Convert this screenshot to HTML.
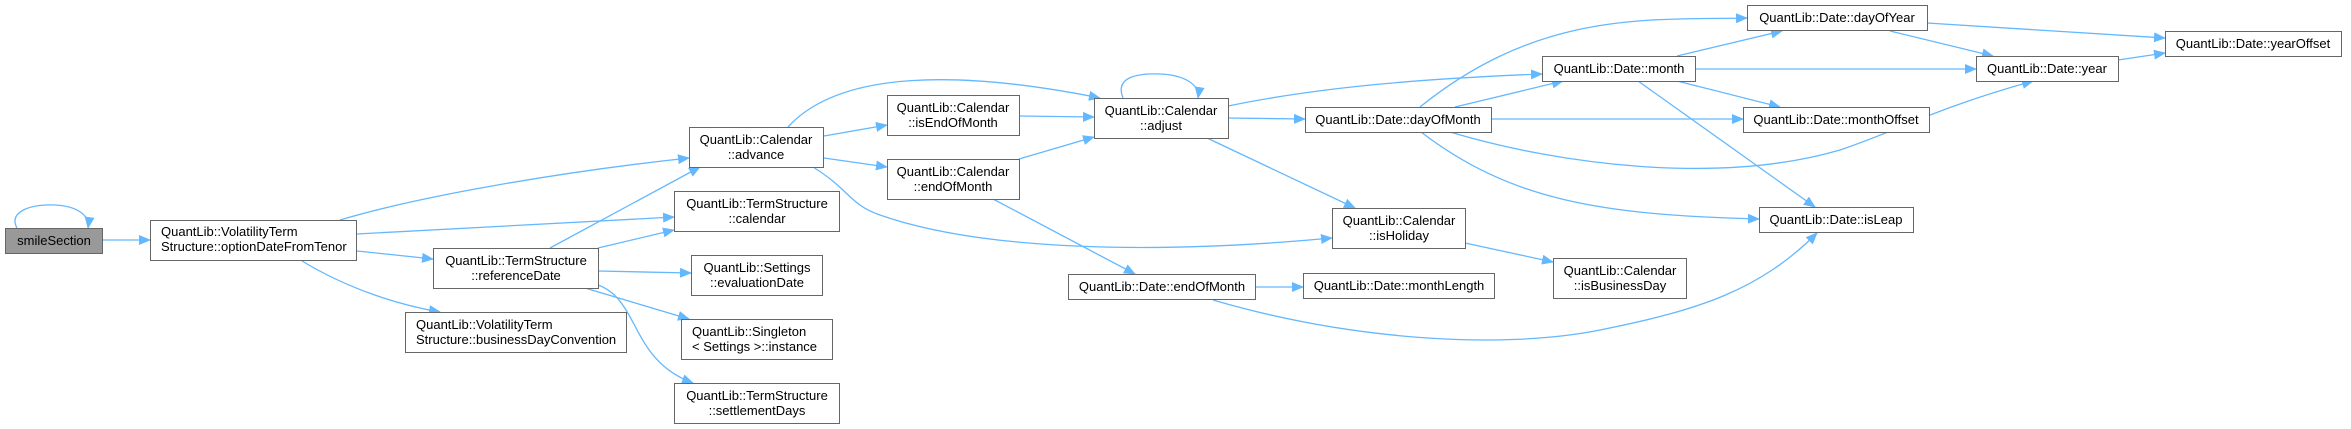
<!DOCTYPE html>
<html><head><meta charset="utf-8"><style>
html,body{margin:0;padding:0;background:#fff;}
svg{display:block;}
text{font-family:"Liberation Sans",Arial,sans-serif;font-size:13px;fill:#000;}
</style></head><body>
<svg width="2351" height="429" viewBox="0 0 2351 429" xmlns="http://www.w3.org/2000/svg">
<defs>
<marker id="a" markerWidth="12" markerHeight="10" refX="11" refY="5" orient="auto" markerUnits="userSpaceOnUse">
<path d="M0,0 L12,5 L0,10 Z" fill="#63b8ff"/>
</marker>
</defs>
<g fill="none" stroke="#63b8ff" stroke-width="1.3" marker-end="url(#a)">
<path d="M17,228 C8,212 30,204 55,205 C75,206 90,214 88,228"/>
<path d="M103,240 L150,240"/>
<path d="M340,220 C420,196 560,172 689,158"/>
<path d="M357,234 L674,217"/>
<path d="M357,251 L433,259"/>
<path d="M302,261 C350,290 400,305 440,312"/>
<path d="M550,248 L700,167"/>
<path d="M598,248 L674,230"/>
<path d="M598,271 L691,273"/>
<path d="M585,288 L689,319"/>
<path d="M598,285 C640,300 630,360 693,383"/>
<path d="M788,127 C840,70 960,70 1100,98"/>
<path d="M824,136 L887,125"/>
<path d="M824,158 L887,167"/>
<path d="M813,167 C850,190 850,205 880,215 C980,250 1150,255 1332,238"/>
<path d="M1019,116 L1094,117"/>
<path d="M1019,159 L1094,137"/>
<path d="M993,199 L1135,274"/>
<path d="M1123,98 C1115,78 1135,73 1160,74 C1185,75 1200,85 1198,98"/>
<path d="M1228,106 C1330,85 1440,78 1542,74"/>
<path d="M1228,118 L1305,119"/>
<path d="M1207,138 L1355,208"/>
<path d="M1420,107 C1540,10 1650,20 1747,18"/>
<path d="M1455,107 L1563,81"/>
<path d="M1491,119 L1743,119"/>
<path d="M1450,132 C1560,165 1720,185 1840,150 C1900,130 1930,110 2033,81"/>
<path d="M1421,132 C1510,200 1600,215 1759,219"/>
<path d="M1465,243 L1553,262"/>
<path d="M1255,287 L1303,287"/>
<path d="M1213,300 C1350,340 1500,350 1600,330 C1700,310 1760,290 1817,233"/>
<path d="M1677,56 L1782,31"/>
<path d="M1695,69 L1976,69"/>
<path d="M1677,81 L1780,107"/>
<path d="M1638,81 L1815,207"/>
<path d="M1927,23 L2165,38"/>
<path d="M1890,31 L1993,56"/>
<path d="M2118,60 L2165,53"/>
</g>
<g stroke="#666" stroke-width="1" fill="#fff">
<rect x="5.5" y="228.5" width="97" height="25" fill="#999"/>
<rect x="150.5" y="220.5" width="206" height="40"/>
<rect x="689.5" y="127.5" width="134" height="40"/>
<rect x="674.5" y="191.5" width="165" height="40"/>
<rect x="433.5" y="248.5" width="165" height="40"/>
<rect x="691.5" y="255.5" width="131" height="40"/>
<rect x="405.5" y="312.5" width="221" height="40"/>
<rect x="681.5" y="319.5" width="151" height="40"/>
<rect x="674.5" y="383.5" width="165" height="40"/>
<rect x="887.5" y="95.5" width="132" height="40"/>
<rect x="887.5" y="159.5" width="132" height="40"/>
<rect x="1094.5" y="98.5" width="134" height="40"/>
<rect x="1305.5" y="107.5" width="186" height="25"/>
<rect x="1332.5" y="208.5" width="133" height="40"/>
<rect x="1068.5" y="274.5" width="187" height="25"/>
<rect x="1303.5" y="273.5" width="191" height="25"/>
<rect x="1553.5" y="258.5" width="133" height="40"/>
<rect x="1542.5" y="56.5" width="153" height="25"/>
<rect x="1747.5" y="5.5" width="180" height="25"/>
<rect x="2165.5" y="31.5" width="176" height="25"/>
<rect x="1976.5" y="56.5" width="142" height="25"/>
<rect x="1743.5" y="107.5" width="186" height="25"/>
<rect x="1759.5" y="207.5" width="154" height="25"/>
</g>
<g text-anchor="middle">
<text x="54" y="245">smileSection</text>
<text x="161" y="236" text-anchor="start">QuantLib::VolatilityTerm</text>
<text x="161" y="251" text-anchor="start">Structure::optionDateFromTenor</text>
<text x="756" y="144">QuantLib::Calendar</text><text x="756" y="159">::advance</text>
<text x="757" y="208">QuantLib::TermStructure</text><text x="757" y="223">::calendar</text>
<text x="516" y="265">QuantLib::TermStructure</text><text x="516" y="280">::referenceDate</text>
<text x="757" y="272">QuantLib::Settings</text><text x="757" y="287">::evaluationDate</text>
<text x="416" y="329" text-anchor="start">QuantLib::VolatilityTerm</text>
<text x="416" y="344" text-anchor="start">Structure::businessDayConvention</text>
<text x="692" y="336" text-anchor="start">QuantLib::Singleton</text>
<text x="692" y="351" text-anchor="start">&lt; Settings &gt;::instance</text>
<text x="757" y="400">QuantLib::TermStructure</text><text x="757" y="415">::settlementDays</text>
<text x="953" y="112">QuantLib::Calendar</text><text x="953" y="127">::isEndOfMonth</text>
<text x="953" y="176">QuantLib::Calendar</text><text x="953" y="191">::endOfMonth</text>
<text x="1161" y="115">QuantLib::Calendar</text><text x="1161" y="130">::adjust</text>
<text x="1398" y="124">QuantLib::Date::dayOfMonth</text>
<text x="1399" y="225">QuantLib::Calendar</text><text x="1399" y="240">::isHoliday</text>
<text x="1162" y="291">QuantLib::Date::endOfMonth</text>
<text x="1399" y="290">QuantLib::Date::monthLength</text>
<text x="1620" y="275">QuantLib::Calendar</text><text x="1620" y="290">::isBusinessDay</text>
<text x="1619" y="73">QuantLib::Date::month</text>
<text x="1837" y="22">QuantLib::Date::dayOfYear</text>
<text x="2253" y="48">QuantLib::Date::yearOffset</text>
<text x="2047" y="73">QuantLib::Date::year</text>
<text x="1836" y="124">QuantLib::Date::monthOffset</text>
<text x="1836" y="224">QuantLib::Date::isLeap</text>
</g>
</svg>
</body></html>
